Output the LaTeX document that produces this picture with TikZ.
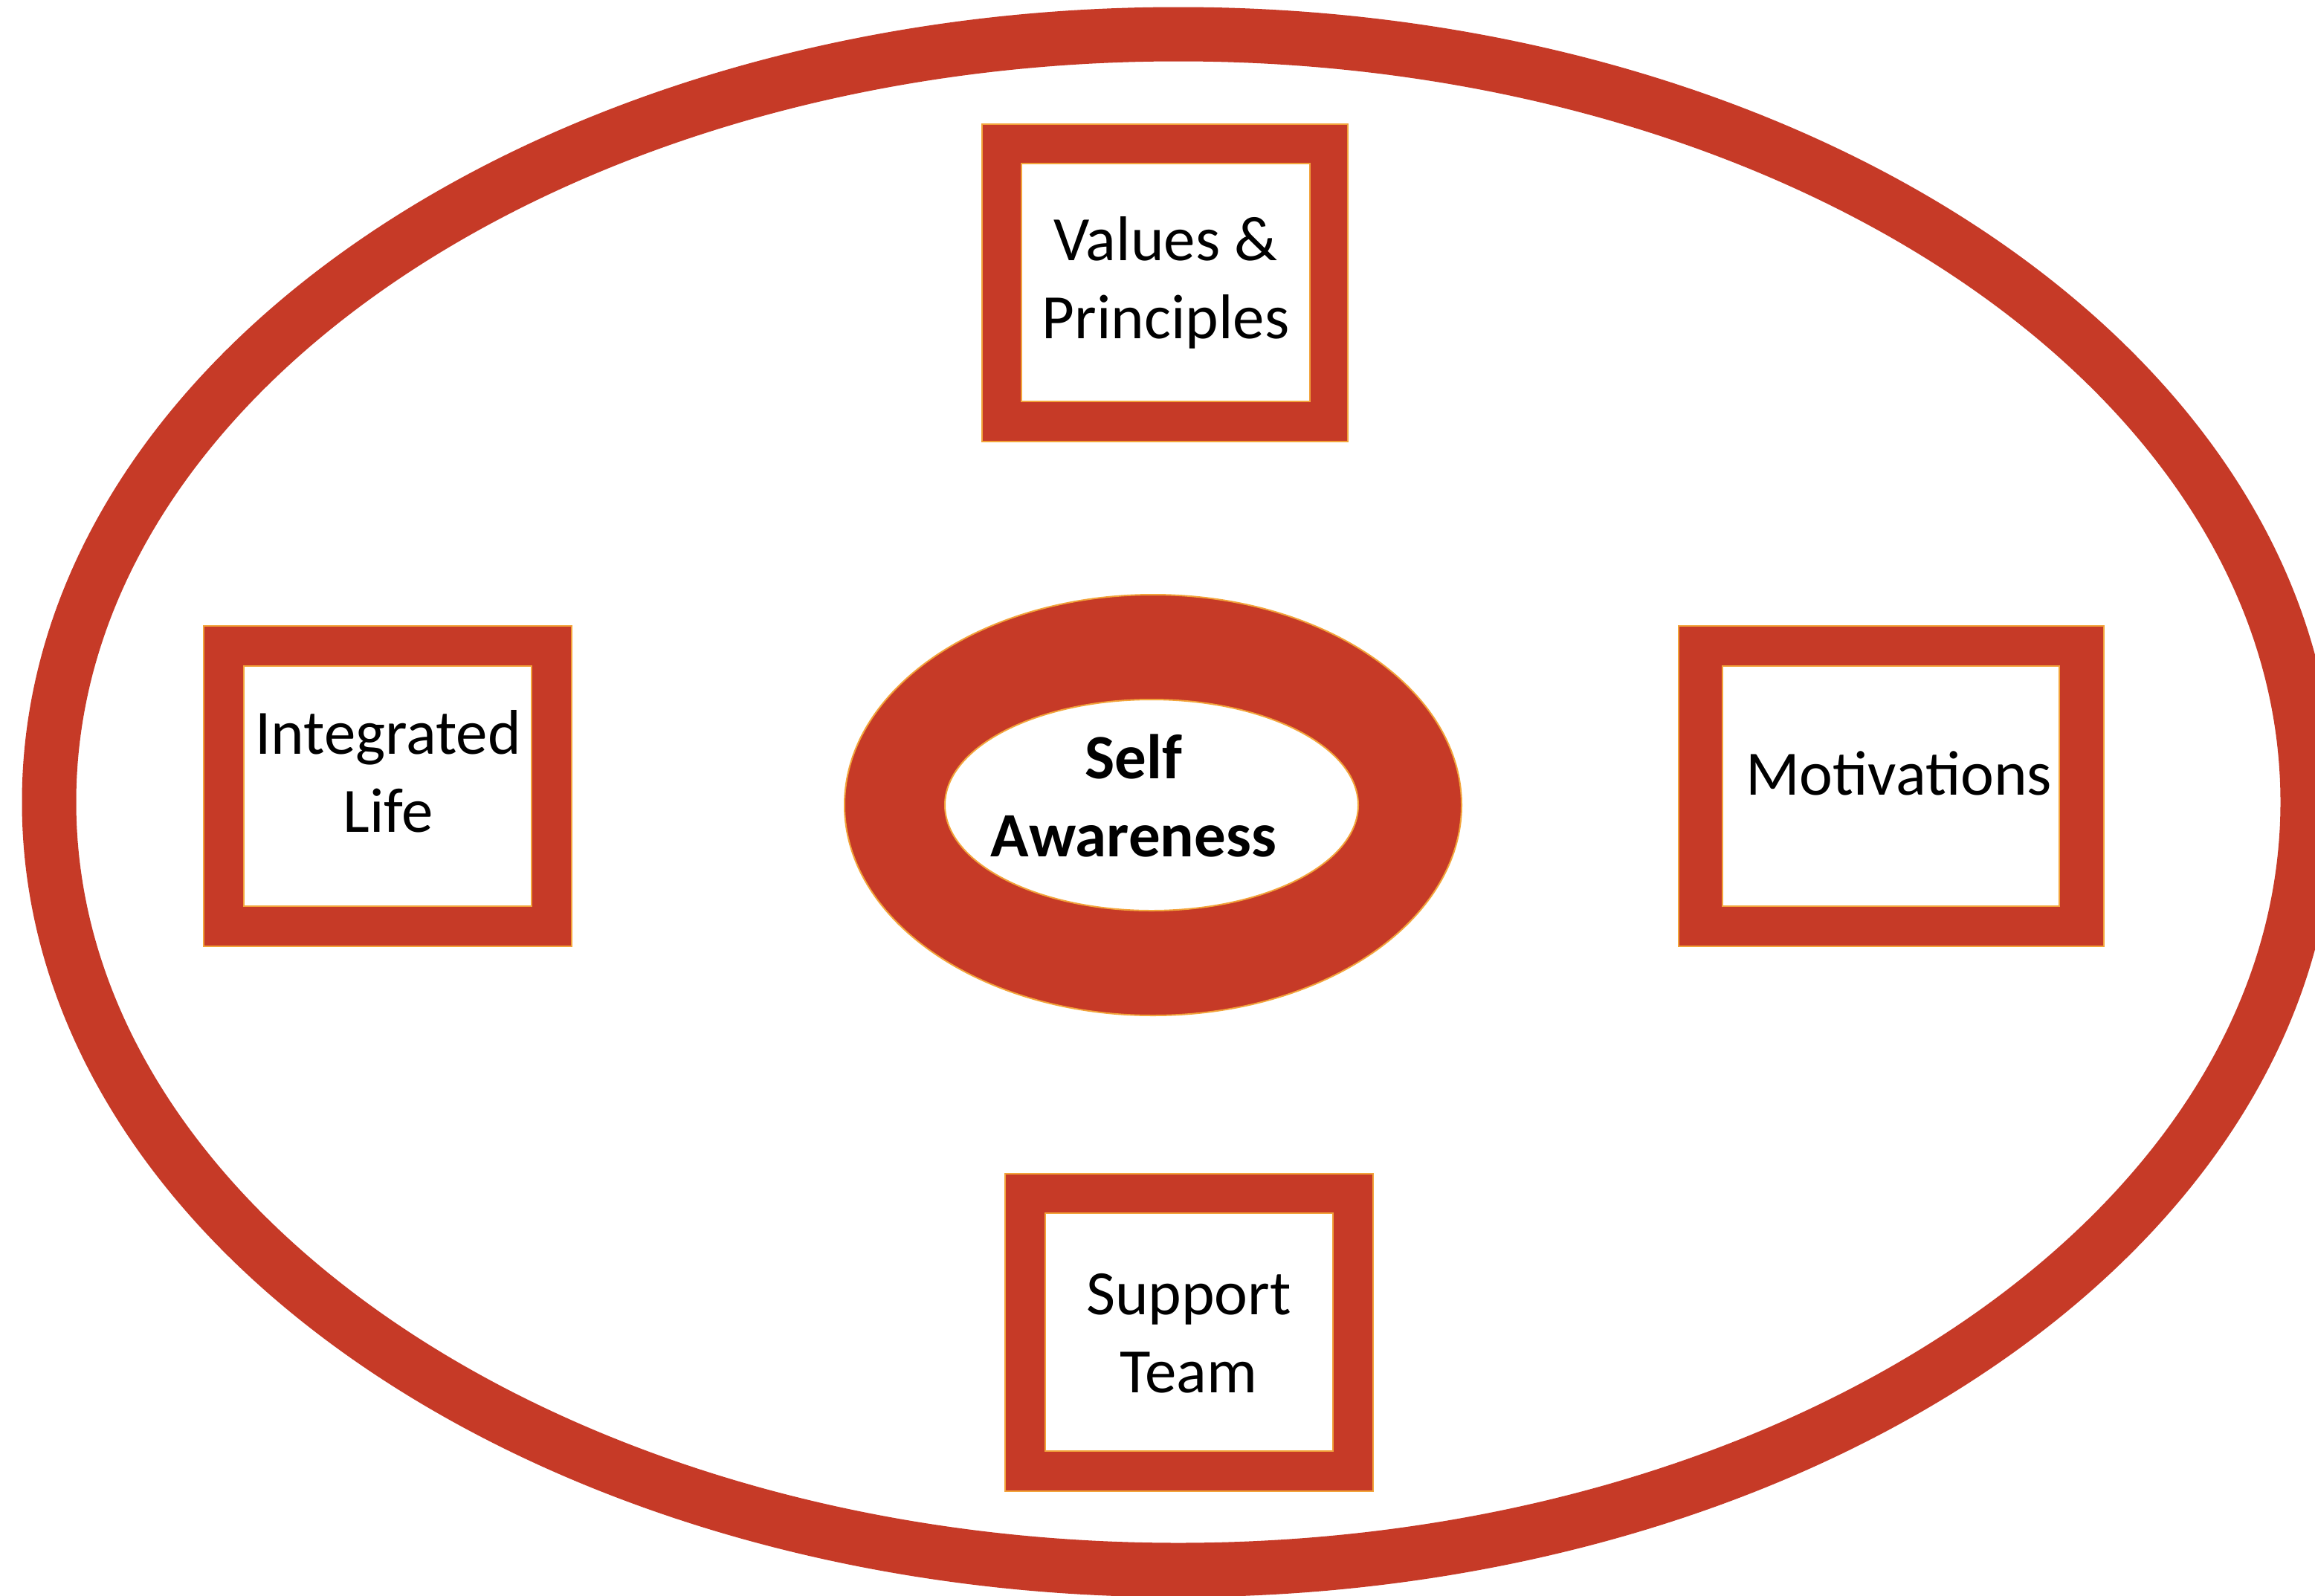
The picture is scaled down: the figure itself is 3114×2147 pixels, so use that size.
\documentclass[tikz,border=0pt]{standalone}
\usepackage{fontspec}
\setmainfont{Carlito}
\usetikzlibrary{shapes.geometric}
\definecolor{myred}{HTML}{C63A27}
\definecolor{myorange}{HTML}{F2A33A}
\begin{document}
\begin{tikzpicture}[x=1pt,y=-1pt,
  outerbox/.style={rectangle,fill=myred,draw=myorange,line width=2pt,inner sep=0pt},
  innerbox/.style={rectangle,fill=white,draw=myorange,line width=2pt,inner sep=0pt},
  lbl/.style={align=center,font=\fontsize{85}{105}\selectfont,inner sep=0pt}]
\useasboundingbox (0,0) rectangle (3114,2147);
\fill[white] (0,0) rectangle (3114,2147);
% big outer ellipse
\draw[myred,line width=73pt] (1585,1079) ellipse [x radius=1519,y radius=1033];
% centre ring
\node[ellipse,fill=myred,draw=myorange,line width=2pt,minimum width=830,minimum height=566,inner sep=0pt] (ring) at (1551,1083) {};
\node[ellipse,fill=white,draw=myorange,line width=2pt,minimum width=556,minimum height=284,inner sep=0pt] (core) at (1549,1083) {};
\node[lbl,font=\fontsize{85}{105}\selectfont\bfseries] (selftxt) at (1525,1070) {Self\\Awareness};
% Values & Principles
\node[outerbox,minimum width=492,minimum height=427] (vpo) at (1567,380.5) {};
\node[innerbox,minimum width=388,minimum height=320] (vpi) at (1568,380) {};
\node[lbl] (vptxt) at (1568,380) {Values \&\\Principles};
% Integrated Life
\node[outerbox,minimum width=495,minimum height=431] (ilo) at (521.5,1057.5) {};
\node[innerbox,minimum width=387,minimum height=323] (ili) at (521.5,1057.5) {};
\node[lbl] (iltxt) at (522,1038) {Integrated\\Life};
% Motivations
\node[outerbox,minimum width=572,minimum height=431] (moo) at (2544,1057.5) {};
\node[innerbox,minimum width=453,minimum height=323] (moi) at (2543.5,1057.5) {};
\node[lbl] (motxt) at (2554,1040) {Motivations};
% Support Team
\node[outerbox,minimum width=495,minimum height=427] (sto) at (1599.5,1792.5) {};
\node[innerbox,minimum width=387,minimum height=320] (sti) at (1599.5,1792) {};
\node[lbl] (sttxt) at (1599,1794) {Support\\Team};
\end{tikzpicture}
\end{document}
